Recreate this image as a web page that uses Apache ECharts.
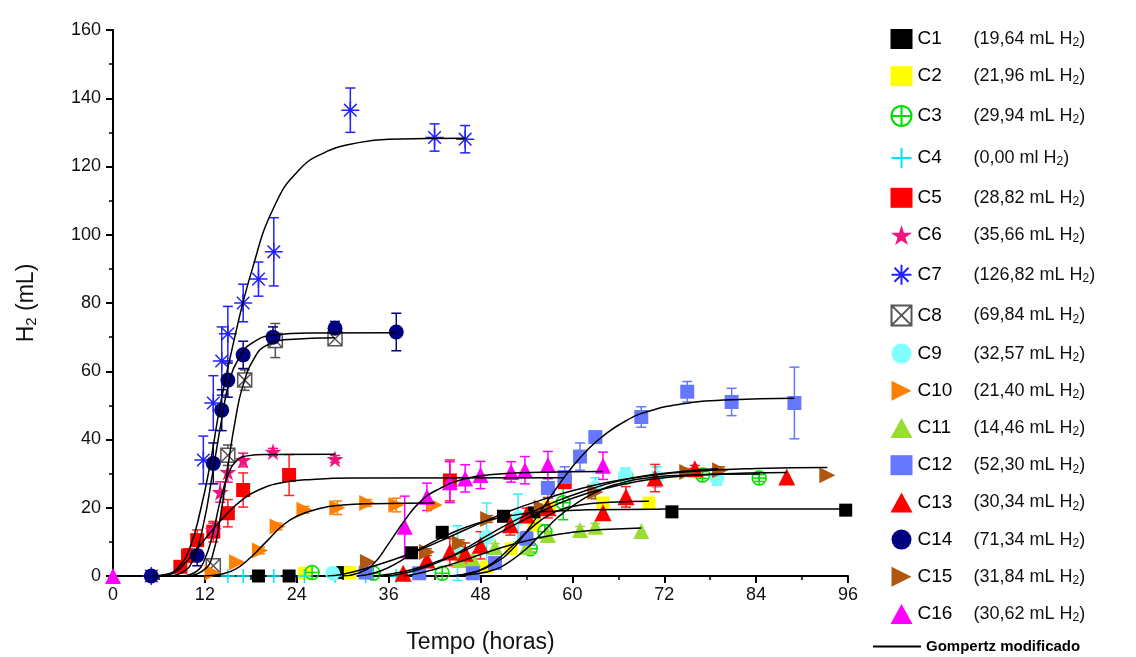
<!DOCTYPE html>
<html>
<head>
<meta charset="utf-8">
<script src="https://cdn.jsdelivr.net/npm/echarts@6/dist/echarts.min.js"></script>
<style>
  html, body { margin: 0; background: #fff; }
  #myechart { width: 1136px; height: 657px; }
</style>
</head>
<body>
<div id="myechart"></div>
<script>
// legend names and final hydrogen volumes
var names = ['C1', 'C2', 'C3', 'C4', 'C5', 'C6', 'C7', 'C8', 'C9', 'C10', 'C11', 'C12', 'C13', 'C14', 'C15', 'C16'];
var totals = ['19,64 mL', '21,96 mL', '29,94 mL', '0,00 ml', '28,82 mL', '35,66 mL', '126,82 mL', '69,84 mL',
  '32,57 mL', '21,40 mL', '14,46 mL', '52,30 mL', '30,34 mL', '71,34 mL', '31,84 mL', '30,62 mL'];

// measured points [hours, mL, error]
var pts_C1 = [[19,0,0],[23,0,0],[30,1,0],[39,6.8,0],[43,12.8,0],[51,17.5,0],[55,18.5,0],[73,18.8,0],[95.7,19.3,1]];
var pts_C2 = [[25,0.8,0],[31,1,0],[48.8,2.6,0],[52,8,1],[55,15,1],[57,20.2,1],[64,21.4,1],[70,21.4,0]];
var pts_C3 = [[26,1,0],[34,0.8,0],[43,0.8,0],[54.5,8,1],[56.4,13,2],[58.8,21.5,5],[67,29,0],[77,29.6,1],[84.4,28.7,1]];
var pts_C4 = [[15,0,0],[17,0,0],[21,0,0],[25,0,0],[29,0,0],[33,0,0],[37,0,0]];
var pts_C5 = [[8.8,2.7,1],[9.8,6,2],[11,10.5,3],[13.1,13,3],[15,18.4,4],[17,25.2,5],[23,29.6,6],[44,28,6],[59,27.5,0]];
var pts_C6 = [[13.1,13.5,2],[14,24.6,3],[15,30.5,3],[17,34,2],[20.9,36.4,1],[29,34.3,1]];
var pts_C7 = [[5,0,0],[11.8,34,7],[13.1,50.7,8],[14.2,63,10],[15,71,8],[17,80,5.5],[19,87,5],[21,95,10],[31,136.5,6.5],[42,128.5,4],[46,128,4]];
var pts_C8 = [[13.1,3,1],[15,35.4,3],[17.2,57.4,3],[21.2,69,5],[29,69.5,1]];
var pts_C9 = [[28.7,0.8,0],[45,6.7,8],[48.8,11.4,10],[52.9,17,7],[63,25.8,3],[66.9,29.6,2],[71,29,3],[78.9,28.7,2]];
var pts_C10 = [[13,1,0],[16.2,4,0.5],[19.2,7.5,1],[21.5,14.5,1],[25,19.4,1],[29.3,20,2],[33.2,21.4,1],[37,20.8,2],[42,20.8,0]];
var pts_C11 = [[45.3,4.7,1],[47,5,1],[49.9,8.5,1],[54,8.5,1],[56.8,12,1],[61,13.5,1],[63,14.4,1],[69,13.2,0]];
var pts_C12 = [[33,1,0],[40,0.8,0],[47,0.8,0],[49.9,3.8,0],[54,11,2],[56.8,25.8,3],[59,29,3],[61,35,4],[63,40.7,0],[69,46.6,3],[75,54,3],[80.8,51,4],[89,50.7,10.5]];
var pts_C13 = [[37.9,0.8,0],[41,4.7,0],[44,7,4],[46,6.7,3],[48,9,4],[51.9,15,3],[54,17.9,2],[56.8,20,3],[64,18.5,0],[67,23.2,3],[70.8,28.7,4],[76,31.4,1],[88,29,0]];
var pts_C14 = [[5,0,0],[11,6,3],[13.1,33,6],[14.2,48.6,6],[15,57.4,5],[17,64.8,4],[20.9,70,3],[29,72.6,2],[37,71.5,5.5]];
var pts_C15 = [[33.3,4.1,0],[41,7,1],[45.3,9.6,1],[49,16.7,1],[56,20,1],[63,24.6,2],[75,30.5,1],[79.3,31,1],[93.3,29.5,0]];
var pts_C16 = [[0,0,0],[38.1,14.4,9],[41,23.2,4],[44,27.5,6],[46,28.6,4],[48,29.6,4],[52,30.5,3],[53.8,31,4],[56.8,32.5,4],[64,32.3,4]];

// modified Gompertz curves
var fit_C1 = [[32,0],[34,0.8],[36,2.5],[38,5],[40,7.8],[43,11.3],[46,14.2],[49,16.3],[52,17.7],[56,18.8],[62,19.4],[72,19.6],[96,19.64]];
var fit_C2 = [[44,0],[46,0.5],[48,1.8],[50,4.5],[52,8.5],[54,12.8],[56,16.5],[58,19],[61,20.8],[65,21.6],[70,21.9]];
var fit_C3 = [[44,0],[47,0.5],[50,2],[52,4.5],[54,8],[56,12.5],[58,17],[60,20.5],[63,24.5],[66,27],[70,28.8],[75,29.6],[84.5,29.9]];
var fit_C5 = [[6,0],[8,1],[9.5,4],[11,8],[13,13.5],[15,18.5],[17,22.5],[19,25.2],[22,27.3],[26,28.3],[32,28.7],[59,28.8]];
var fit_C6 = [[9,0],[11,1.5],[12,5],[13,12],[14,22],[15,29.5],[16,33.5],[17.5,35.2],[20,35.6],[29,35.66]];
var fit_C7 = [[5,0],[7,0.5],[8.5,2.5],[10,8],[11.5,20],[12.7,33],[14,50],[15.9,70],[18.2,90],[21,108],[24.3,119],[28,124.5],[31,126.5],[36,128],[46,128.3]];
var fit_C8 = [[10,0],[12,2],[13,6],[14,17],[15,32],[16,46],[17,56],[18.5,64],[20,67.5],[23,69.3],[29,69.8]];
var fit_C9 = [[36,0],[38,0.8],[40,2],[43,4.5],[46,8],[49,12],[52,15.7],[55,19],[58,22],[62,25.2],[66,27.8],[70,29.5],[75,30.8],[79,31.4]];
var fit_C10 = [[12,0],[14,0.5],[16,2],[18,5.5],[20,10],[22,14.5],[24,17.5],[27,19.8],[30,20.8],[34,21.2],[42,21.4]];
var fit_C11 = [[38,0],[40,0.8],[42,2],[45,4],[48,6.3],[51,8.5],[54,10.3],[57,11.8],[60,12.8],[64,13.6],[69,14.1]];
var fit_C12 = [[44,0],[47,1],[50,4],[52,7.5],[54,13],[56,19.5],[58,26],[60,32],[62,37],[64,41],[67,45.5],[70,48.3],[74,50.3],[80,51.6],[89,52.1]];
var fit_C13 = [[34,0],[36,0.5],[38,1.3],[40,2.5],[42,4],[45,6.5],[48,9.8],[51,13.3],[54,16.8],[57,20],[60,22.8],[64,25.5],[68,27.5],[72,28.8],[78,29.8],[88,30.3]];
var fit_C14 = [[7,0],[9,1],[10.5,5],[11.8,15],[13,30],[14.2,46],[15.2,57],[16.5,64],[18,68],[21,70.6],[26,71.2],[37,71.3]];
var fit_C15 = [[28,0],[30,0.5],[33,2.2],[36,4.3],[40,7.6],[44,11.5],[48,15.5],[52,19.2],[56,22.3],[60,25],[65,27.6],[70,29.4],[76,30.7],[84,31.5],[93.3,31.8]];
var fit_C16 = [[30,0],[32,0.8],[34,3.5],[36,9.5],[38,16],[40,21.5],[42.3,25.2],[46,28.5],[50,29.8],[56,30.4],[64,30.6]];

var points = [pts_C1, pts_C2, pts_C3, pts_C4, pts_C5, pts_C6, pts_C7, pts_C8, pts_C9, pts_C10, pts_C11, pts_C12, pts_C13, pts_C14, pts_C15, pts_C16];
var fits = [fit_C1, fit_C2, fit_C3, fit_C5, fit_C6, fit_C7, fit_C8, fit_C9, fit_C10, fit_C11, fit_C12, fit_C13, fit_C14, fit_C15, fit_C16];

var RTRI = 'path://M0,0L10,5L0,10Z';
var STAR = 'path://M50,0L61,35L98,35L68,57L79,91L50,70L21,91L32,57L2,35L39,35Z';
var ASTER = 'path://M5,0L5,10M0,5L10,5M1.5,1.5L8.5,8.5M8.5,1.5L1.5,8.5';
var PLUS = 'path://M5,0L5,10M0,5L10,5';
var OCROSS = 'path://M10,5A5,5,0,1,1,0,5A5,5,0,1,1,10,5ZM5,0L5,10M0,5L10,5';
var XBOX = 'path://M0,0L10,0L10,10L0,10ZM0,0L10,10M10,0L0,10';

var looks = [
  { symbol: 'rect', size: 13, color: '#000000' },
  { symbol: 'rect', size: 13, color: '#ffff00' },
  { symbol: OCROSS, size: 14, color: 'none', border: '#00dd00' },
  { symbol: PLUS, size: 14, color: 'none', border: '#00e5ff' },
  { symbol: 'rect', size: 14, color: '#ff0000' },
  { symbol: STAR, size: 17, color: '#f0147f' },
  { symbol: ASTER, size: 18, color: 'none', border: '#2222ff' },
  { symbol: XBOX, size: 14, color: '#ffffff', border: '#555555' },
  { symbol: 'circle', size: 15, color: '#80ffff' },
  { symbol: RTRI, size: 16, color: '#ff8000' },
  { symbol: 'triangle', size: 16, color: '#99dd33' },
  { symbol: 'rect', size: 14, color: '#6677ff' },
  { symbol: 'triangle', size: 17, color: '#ff0000' },
  { symbol: 'circle', size: 15, color: '#000080' },
  { symbol: RTRI, size: 16, color: '#b0560f' },
  { symbol: 'triangle', size: 16, color: '#ff00ff' }
];
var barColors = ['#000000', '#dddd00', '#00dd00', '#00e5ff', '#ff2020', '#f0147f', '#2222ff', '#555555',
  '#33eeff', '#ff8000', '#99dd33', '#6677ff', '#ff2020', '#000080', '#b0560f', '#ff00ff'];

function errRender(color) {
  return function (params, api) {
    var top = api.coord([api.value(0), api.value(2)]);
    var bot = api.coord([api.value(0), api.value(1)]);
    var w = 5;
    var st = { stroke: color, lineWidth: 1.5 };
    return { type: 'group', children: [
      { type: 'line', shape: { x1: top[0], y1: top[1], x2: bot[0], y2: bot[1] }, style: st },
      { type: 'line', shape: { x1: top[0] - w, y1: top[1], x2: top[0] + w, y2: top[1] }, style: st },
      { type: 'line', shape: { x1: bot[0] - w, y1: bot[1], x2: bot[0] + w, y2: bot[1] }, style: st }
    ] };
  };
}

var series = [];
for (var i = 0; i < names.length; i++) {
  var bars = points[i].filter(function (p) { return p[2] > 0; })
    .map(function (p) { return [p[0], p[1] - p[2], p[1] + p[2]]; });
  series.push({
    name: 'eb_' + names[i], type: 'custom', z: 1,
    renderItem: errRender(barColors[i]),
    encode: { x: 0, y: [1, 2] },
    data: bars
  });
}
for (var i = 0; i < fits.length; i++) {
  series.push({
    name: 'Gompertz modificado', type: 'line', z: 4,
    data: fits[i], smooth: 0.5,
    symbol: 'none', itemStyle: { color: '#000' },
    lineStyle: { color: '#000', width: 1.5 }
  });
}
for (var i = 0; i < names.length; i++) {
  var lk = looks[i];
  series.push({
    name: names[i], type: 'scatter', z: 3,
    symbol: lk.symbol, symbolSize: lk.size,
    itemStyle: { color: lk.color, borderColor: lk.border || lk.color, borderWidth: lk.border ? 1.5 : 0, opacity: 1 },
    data: points[i].map(function (p) { return [p[0], p[1]]; })
  });
}

var FONT = 'Liberation Sans, Arial, sans-serif';

myechart = echarts.init(document.getElementById('myechart'));
myechart.setOption({
  animation: false,
  grid: { left: 113, right: 288, top: 30, bottom: 81, outerBoundsMode: 'none' },
  xAxis: {
    type: 'value', min: 0, max: 96, interval: 12,
    name: 'Tempo (horas)', nameLocation: 'middle', nameGap: 55,
    nameTextStyle: { fontFamily: FONT, fontSize: 23, color: '#111' },
    axisLine: { lineStyle: { color: '#000', width: 2 } },
    axisTick: { length: 7, lineStyle: { color: '#000', width: 2 } },
    minorTick: { show: true, splitNumber: 2, length: 4, lineStyle: { color: '#000', width: 1.5 } },
    axisLabel: { fontFamily: FONT, fontSize: 18, color: '#111', margin: 10 },
    splitLine: { show: false }
  },
  yAxis: {
    type: 'value', min: 0, max: 160, interval: 20,
    name: '{a|H}{s|2}{a| (mL)}', nameLocation: 'middle', nameGap: 74,
    nameTextStyle: { rich: {
      a: { fontFamily: FONT, fontSize: 23, color: '#111' },
      s: { fontFamily: FONT, fontSize: 15, color: '#111', padding: [10, 0, 0, 0] }
    } },
    axisLine: { show: true, lineStyle: { color: '#000', width: 2 } },
    axisTick: { show: true, length: 7, lineStyle: { color: '#000', width: 2 } },
    minorTick: { show: true, splitNumber: 2, length: 4, lineStyle: { color: '#000', width: 1.5 } },
    axisLabel: { fontFamily: FONT, fontSize: 18, color: '#111', margin: 12 },
    splitLine: { show: false }
  },
  legend: [{
    orient: 'vertical', left: 884, top: 24,
    itemWidth: 22, itemHeight: 20, itemGap: 17.2,
    data: names,
    formatter: function (name) {
      var t = totals[names.indexOf(name)];
      return '{n|' + name + '}{v|(' + t + ' H}{s|2}{v|)}';
    },
    textStyle: { rich: {
      n: { fontFamily: FONT, fontSize: 19, color: '#000', width: 56 },
      v: { fontFamily: FONT, fontSize: 18, color: '#111' },
      s: { fontFamily: FONT, fontSize: 12, color: '#111', padding: [8, 0, 0, 0] }
    } }
  }, {
    orient: 'vertical', left: 868, top: 634,
    itemWidth: 48, itemHeight: 14,
    data: [{ name: 'Gompertz modificado', icon: 'path://M0,0L48,0L48,2L0,2Z' }],
    textStyle: { fontFamily: FONT, fontSize: 15, fontWeight: 'bold', color: '#000' }
  }],
  series: series
});
</script>
</body>
</html>
